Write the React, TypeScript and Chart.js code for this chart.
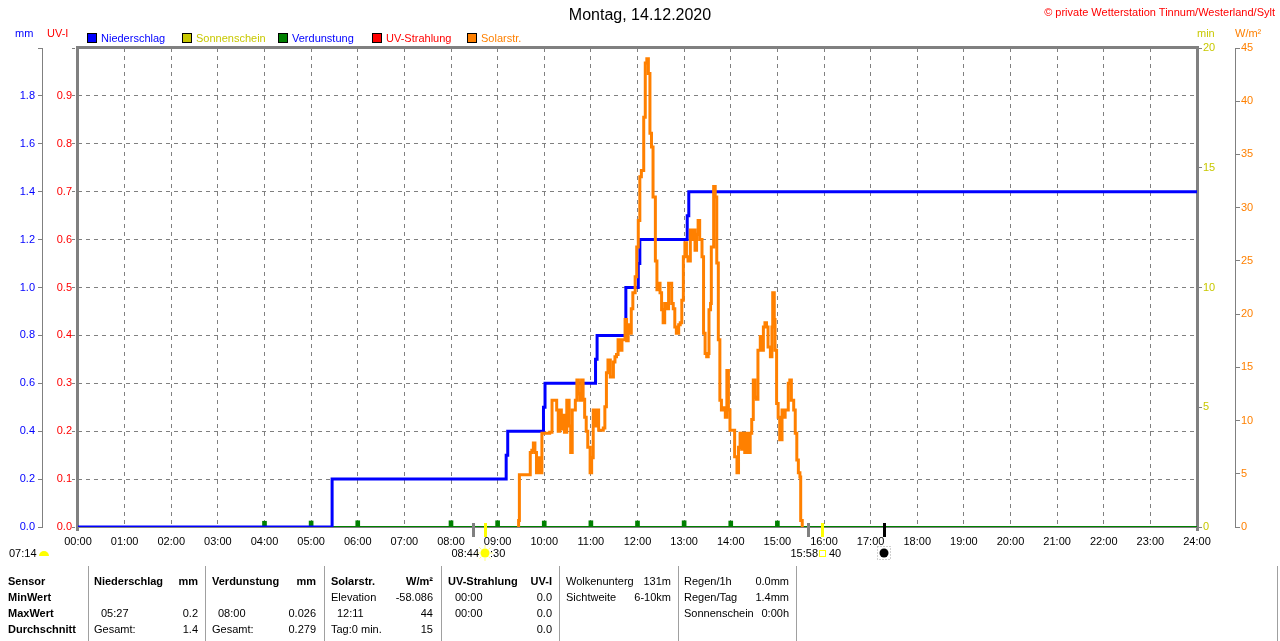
import React, { useEffect, useRef } from "react";
import { Chart, registerables } from "chart.js";

Chart.register(...registerables);

const FONT = "'Liberation Sans', Arial, sans-serif";

// ---------- data ----------
const xTickLabels = [
  "00:00", "01:00", "02:00", "03:00", "04:00", "05:00", "06:00", "07:00", "08:00",
  "09:00", "10:00", "11:00", "12:00", "13:00", "14:00", "15:00", "16:00", "17:00",
  "18:00", "19:00", "20:00", "21:00", "22:00", "23:00", "24:00",
];

const precipTimes = ["00:00", "05:27", "09:11", "09:13", "09:59", "10:01", "11:06", "11:08", "11:45", "12:01", "12:03", "13:04", "13:06", "24:00"];
const precipValues = [0, 0.2, 0.3, 0.4, 0.5, 0.6, 0.7, 0.8, 1.0, 1.1, 1.2, 1.3, 1.4, 1.4];

const evapTimes = ["04:00", "05:00", "06:00", "08:00", "09:00", "10:00", "11:00", "12:00", "13:00", "14:00", "15:00"];
const evapValues = [0.024, 0.025, 0.026, 0.026, 0.026, 0.025, 0.026, 0.025, 0.026, 0.025, 0.025];

const solarTimes = [
  "09:26", "09:27", "09:28", "09:42", "09:44", "09:46", "09:48", "09:50", "09:52", "09:54", "09:57",
  "10:07", "10:10", "10:14", "10:16", "10:18", "10:20", "10:22", "10:23", "10:26", "10:29", "10:32",
  "10:34", "10:36", "10:40", "10:42", "10:44", "10:46", "10:48", "10:50", "10:52", "10:54", "10:56",
  "10:59", "11:01", "11:03", "11:06", "11:08", "11:10", "11:16", "11:18", "11:20", "11:22", "11:25",
  "11:29", "11:31", "11:33", "11:35", "11:38", "11:40", "11:44", "11:46", "11:48", "11:50", "11:52",
  "11:54", "11:57", "11:59", "12:01", "12:03", "12:05", "12:08", "12:10", "12:12", "12:14", "12:16",
  "12:18", "12:20", "12:23", "12:25", "12:27", "12:29", "12:31", "12:33", "12:35", "12:37", "12:40",
  "12:44", "12:46", "12:48", "12:50", "12:53", "12:55", "12:57", "12:59", "13:01", "13:03", "13:05",
  "13:08", "13:10", "13:12", "13:14", "13:16", "13:18", "13:20", "13:23", "13:25", "13:27", "13:29",
  "13:31", "13:32", "13:34", "13:35", "13:38", "13:40", "13:42", "13:44", "13:46", "13:48", "13:51",
  "13:53", "13:55", "13:57", "13:59", "14:05", "14:08", "14:10", "14:12", "14:14", "14:16", "14:18",
  "14:21", "14:23", "14:25", "14:27", "14:29", "14:31", "14:33", "14:35", "14:38", "14:40", "14:42",
  "14:44", "14:46", "14:48", "14:51", "14:53", "14:54", "14:56", "14:57", "14:59", "15:01", "15:03",
  "15:06", "15:08", "15:10", "15:14", "15:16", "15:18", "15:21", "15:23", "15:25", "15:27", "15:29",
  "15:30", "15:32",
];
const solarValues = [
  0, 0.6, 4.9, 7.0, 7.2, 7.9, 7.0, 5.1, 6.5, 5.1, 8.8,
  8.9, 11.9, 11.9, 11.0, 9.0, 11.0, 9.2, 10.5, 8.9, 11.9, 9.5,
  7.0, 11.0, 11.9, 13.8, 12.5, 11.9, 13.8, 12.0, 10.3, 9.0, 7.5,
  5.1, 6.5, 11.0, 9.5, 11.0, 9.1, 9.3, 11.3, 14.5, 15.7, 14.1,
  15.5, 16.0, 16.2, 17.6, 16.6, 17.6, 19.5, 17.5, 19.0, 18.2, 20.5,
  22.0, 23.5, 26.3, 28.8, 32.9, 33.5, 38.5, 43.6, 44.0, 42.6, 37.0,
  35.7, 31.0, 25.0, 22.3, 22.9, 22.0, 20.4, 19.2, 21.0, 20.5, 22.9,
  21.0, 20.5, 18.8, 18.2, 19.0, 19.2, 21.3, 25.4, 26.7, 25.4, 25.0,
  27.9, 27.0, 27.9, 26.0, 27.5, 28.8, 27.0, 25.4, 18.2, 16.3, 16.0,
  16.3, 20.4, 21.0, 26.3, 32.0, 31.0, 24.8, 17.6, 11.9, 11.0, 11.2,
  10.3, 14.7, 11.0, 9.1, 6.6, 5.1, 7.5, 8.8, 7.3, 8.8, 7.0,
  8.8, 7.0, 8.8, 10.1, 13.8, 12.2, 12.0, 16.6, 17.9, 16.6, 18.8,
  19.2, 18.8, 16.9, 16.0, 18.8, 22.0, 19.5, 16.6, 11.6, 10.3, 8.2,
  11.0, 10.3, 11.0, 13.5, 13.8, 11.9, 11.0, 8.8, 6.3, 5.1, 4.7,
  0.6, 0,
];

const eventTimes = ["08:28", "08:44", "15:39", "15:58", "17:17"];
const eventColors = ["#808080", "#ffff00", "#808080", "#ffff00", "#000000"];

const legendItems = [
  { label: "Niederschlag", fill: "#0000ff", text: "#0000ff" },
  { label: "Sonnenschein", fill: "#c8c800", text: "#c8c800" },
  { label: "Verdunstung", fill: "#008000", text: "#0000ff" },
  { label: "UV-Strahlung", fill: "#ff0000", text: "#ff0000" },
  { label: "Solarstr.", fill: "#ff8000", text: "#ff8000" },
];
const legendX = [87, 182, 278, 372, 467];

// table texts: [text, x, row, align, bold]
const tableCells: [string, number, number, string, boolean][] = [
  ["Sensor", 8, 0, "l", true], ["MinWert", 8, 1, "l", true], ["MaxWert", 8, 2, "l", true], ["Durchschnitt", 8, 3, "l", true],
  ["Niederschlag", 94, 0, "l", true], ["mm", 198, 0, "r", true],
  ["05:27", 101, 2, "l", false], ["0.2", 198, 2, "r", false],
  ["Gesamt:", 94, 3, "l", false], ["1.4", 198, 3, "r", false],
  ["Verdunstung", 212, 0, "l", true], ["mm", 316, 0, "r", true],
  ["08:00", 218, 2, "l", false], ["0.026", 316, 2, "r", false],
  ["Gesamt:", 212, 3, "l", false], ["0.279", 316, 3, "r", false],
  ["Solarstr.", 331, 0, "l", true], ["W/m²", 433, 0, "r", true],
  ["Elevation", 331, 1, "l", false], ["-58.086", 433, 1, "r", false],
  ["12:11", 337, 2, "l", false], ["44", 433, 2, "r", false],
  ["Tag:0 min.", 331, 3, "l", false], ["15", 433, 3, "r", false],
  ["UV-Strahlung", 448, 0, "l", true], ["UV-I", 552, 0, "r", true],
  ["00:00", 455, 1, "l", false], ["0.0", 552, 1, "r", false],
  ["00:00", 455, 2, "l", false], ["0.0", 552, 2, "r", false],
  ["0.0", 552, 3, "r", false],
  ["Wolkenunterg", 566, 0, "l", false], ["131m", 671, 0, "r", false],
  ["Sichtweite", 566, 1, "l", false], ["6-10km", 671, 1, "r", false],
  ["Regen/1h", 684, 0, "l", false], ["0.0mm", 789, 0, "r", false],
  ["Regen/Tag", 684, 1, "l", false], ["1.4mm", 789, 1, "r", false],
  ["Sonnenschein", 684, 2, "l", false], ["0:00h", 789, 2, "r", false],
];
const tableRowY = [581, 597, 613, 629];
const tableSeparators = [88, 205, 324, 441, 559, 678, 796, 1277];

const toMin = (t: string) => {
  const [h, m] = t.split(":").map(Number);
  return h * 60 + m;
};

const markerPlugin = {
  id: "markers",
  beforeDatasetsDraw(chart: any) {
    const { ctx, chartArea: a } = chart;
    ctx.save();
    ctx.strokeStyle = "#808080";
    ctx.lineWidth = 3;
    ctx.beginPath();
    ctx.moveTo(a.left - 2, a.top - 0.5);
    ctx.lineTo(a.right + 2, a.top - 0.5);
    ctx.moveTo(a.left - 0.5, a.top);
    ctx.lineTo(a.left - 0.5, a.bottom + 4);
    ctx.moveTo(a.right + 0.5, a.top);
    ctx.lineTo(a.right + 0.5, a.bottom + 4);
    ctx.stroke();
    ctx.restore();
  },
  afterDraw(chart: any) {
    const { ctx, chartArea: a } = chart;
    const xs = chart.scales.x;
    ctx.save();
    eventTimes.forEach((t, i) => {
      const px = Math.round(xs.getPixelForValue(toMin(t)));
      ctx.fillStyle = eventColors[i];
      ctx.fillRect(px - 1, a.bottom - 4, 3, 14);
    });
    const cy = a.bottom + 26;
    // sun (sunrise)
    const sx = Math.round(xs.getPixelForValue(toMin(eventTimes[1])));
    ctx.strokeStyle = "#ffff80";
    ctx.lineWidth = 1;
    for (let k = 0; k < 8; k++) {
      const ang = (k * Math.PI) / 4;
      ctx.beginPath();
      ctx.moveTo(sx + Math.cos(ang) * 5, cy + Math.sin(ang) * 5);
      ctx.lineTo(sx + Math.cos(ang) * 8, cy + Math.sin(ang) * 8);
      ctx.stroke();
    }
    ctx.fillStyle = "#ffff00";
    ctx.beginPath();
    ctx.arc(sx, cy, 4.5, 0, Math.PI * 2);
    ctx.fill();
    // sunset square
    const ux = Math.round(xs.getPixelForValue(toMin(eventTimes[3])));
    ctx.strokeStyle = "#ffff00";
    ctx.lineWidth = 1;
    ctx.strokeRect(ux - 2.5, cy - 2.5, 6, 6);
    // moon
    const mx = Math.round(xs.getPixelForValue(toMin(eventTimes[4])));
    ctx.fillStyle = "#000000";
    ctx.beginPath();
    ctx.arc(mx, cy, 4.5, 0, Math.PI * 2);
    ctx.fill();
    ctx.strokeStyle = "#a0a0a0";
    ctx.setLineDash([1, 2]);
    ctx.strokeRect(mx - 6.5, cy - 6.5, 13, 13);
    ctx.setLineDash([]);
    // half disc near day length
    ctx.fillStyle = "#ffff00";
    ctx.beginPath();
    ctx.arc(44, cy + 3, 5, Math.PI, 0);
    ctx.closePath();
    ctx.fill();
    ctx.restore();
  },
};

const tickFont = { family: FONT, size: 11 };

function Txt(props: { x: number; y: number; text: string; color?: string; bold?: boolean; align?: string; size?: number }) {
  const { x, y, text, color = "#000", bold = false, align = "l", size = 11 } = props;
  const style: any = {
    position: "absolute",
    top: y - 7,
    lineHeight: "14px",
    fontSize: size,
    fontWeight: bold ? "bold" : "normal",
    color,
    whiteSpace: "nowrap",
  };
  if (align === "r") style.right = 1280 - x;
  else style.left = x;
  return <div style={style}>{text}</div>;
}

export default function App() {
  const ref = useRef<HTMLCanvasElement | null>(null);

  useEffect(() => {
    if (!ref.current) return;
    const chart = new Chart(ref.current, {
      type: "line",
      data: {
        datasets: [
          {
            type: "line",
            label: "Solarstr.",
            yAxisID: "yW",
            data: solarTimes.map((t, i) => ({ x: toMin(t), y: solarValues[i] })),
            borderColor: "#ff8000",
            borderWidth: 3,
            stepped: "before",
            pointRadius: 0,
            order: 0,
          },
          {
            type: "line",
            label: "Niederschlag",
            yAxisID: "y",
            data: precipTimes.map((t, i) => ({ x: toMin(t), y: precipValues[i] })),
            borderColor: "#0000ff",
            borderWidth: 3,
            stepped: "before",
            pointRadius: 0,
            order: 1,
          },
          {
            type: "line",
            label: "Verdunstung",
            yAxisID: "y",
            data: [
              { x: 0, y: 0 },
              { x: 1440, y: 0 },
            ],
            borderColor: "#008000",
            borderWidth: 2,
            pointRadius: 0,
            order: 2,
          },
          {
            type: "bar",
            label: "Verdunstung",
            yAxisID: "y",
            data: evapTimes.map((t, i) => ({ x: toMin(t), y: evapValues[i] })),
            backgroundColor: "#008000",
            barThickness: 4,
            order: 2,
          } as any,
        ],
      },
      options: {
        animation: false,
        responsive: false,
        devicePixelRatio: 1,
        events: [],
        layout: { padding: { top: 48, bottom: 94, left: 0, right: 0 } },
        plugins: { legend: { display: false }, tooltip: { enabled: false }, title: { display: false } },
        scales: {
          x: {
            type: "linear",
            position: "bottom",
            min: 0,
            max: 1440,
            offset: false,
            afterFit: (s: any) => {
              s.height = 20;
            },
            ticks: {
              stepSize: 60,
              autoSkip: false,
              maxRotation: 0,
              padding: 8,
              color: "#000",
              font: tickFont,
              callback: (v: any) => xTickLabels[Math.round(Number(v) / 60)] ?? "",
            },
            grid: { color: "#808080", drawTicks: false, lineWidth: 1, offset: false },
            border: { display: true, color: "#808080", width: 2, dash: [4, 4] },
          },
          y: {
            type: "linear",
            position: "left",
            weight: 2,
            min: 0,
            max: 2.0,
            afterFit: (s: any) => {
              s.width = 42;
            },
            ticks: {
              stepSize: 0.2,
              padding: 3,
              color: "#0000ff",
              font: tickFont,
              callback: (v: any) => (Number(v) > 1.99 ? "" : Number(v).toFixed(1)),
            },
            grid: { drawOnChartArea: false, color: "#808080", tickLength: 4 },
            border: { display: true, color: "#808080", width: 1 },
          },
          yUV: {
            type: "linear",
            position: "left",
            weight: 1,
            min: 0,
            max: 1.0,
            afterFit: (s: any) => {
              s.width = 36;
            },
            ticks: {
              stepSize: 0.1,
              padding: 0,
              color: "#ff0000",
              font: tickFont,
              callback: (v: any) => (Number(v) > 0.99 ? "" : Number(v).toFixed(1)),
            },
            grid: {
              drawOnChartArea: true,
              color: "#808080",
              tickLength: 6,
              tickColor: "#808080",
              tickBorderDash: [3, 3],
            },
            border: { display: false, dash: [4, 4] },
          },
          yMin: {
            type: "linear",
            position: "right",
            weight: 1,
            min: 0,
            max: 20,
            afterFit: (s: any) => {
              s.width = 38;
            },
            ticks: { stepSize: 5, padding: 1, color: "#c8c800", font: tickFont },
            grid: { drawOnChartArea: false, color: "#808080", tickLength: 5 },
            border: { display: true, color: "#808080", width: 3 },
          },
          yW: {
            type: "linear",
            position: "right",
            weight: 2,
            min: 0,
            max: 45,
            afterFit: (s: any) => {
              s.width = 45;
            },
            ticks: { stepSize: 5, padding: 1, color: "#ff8000", font: tickFont },
            grid: { drawOnChartArea: false, color: "#808080", tickLength: 5 },
            border: { display: true, color: "#808080", width: 1 },
          },
        },
      } as any,
      plugins: [markerPlugin],
    });
    return () => chart.destroy();
  }, []);

  return (
    <div
      style={{
        position: "absolute",
        left: 0,
        top: 0,
        width: 1280,
        height: 641,
        overflow: "hidden",
        background: "#fff",
        fontFamily: FONT,
      }}
    >
      <canvas ref={ref} width={1280} height={641} style={{ position: "absolute", left: 0, top: 0, width: 1280, height: 641 }} />
      <div style={{ position: "absolute", left: 0, width: 1280, top: 5, textAlign: "center", fontSize: 16, lineHeight: "20px", color: "#000" }}>
        Montag, 14.12.2020
      </div>
      <Txt x={1275} y={12} text="© private Wetterstation Tinnum/Westerland/Sylt" color="#ff0000" align="r" />
      <Txt x={15} y={33} text="mm" color="#0000ff" />
      <Txt x={47} y={33} text="UV-I" color="#ff0000" />
      <Txt x={1197} y={33} text="min" color="#c8c800" />
      <Txt x={1235} y={33} text="W/m²" color="#ff8000" />
      {legendItems.map((it, i) => (
        <React.Fragment key={it.label}>
          <div
            style={{
              position: "absolute",
              left: legendX[i],
              top: 33,
              width: 8,
              height: 8,
              background: it.fill,
              border: "1px solid #000",
            }}
          />
          <Txt x={legendX[i] + 14} y={38} text={it.label} color={it.text} />
        </React.Fragment>
      ))}
      <Txt x={9} y={553} text="07:14" />
      <Txt x={479} y={553} text="08:44" align="r" />
      <Txt x={490} y={553} text=":30" />
      <Txt x={818} y={553} text="15:58" align="r" />
      <Txt x={829} y={553} text="40" />
      {tableSeparators.map((x) => (
        <div key={x} style={{ position: "absolute", left: x, top: 566, width: 1, height: 75, background: "#a0a0a0" }} />
      ))}
      {tableCells.map((c, i) => (
        <Txt key={i} x={c[1]} y={tableRowY[c[2]]} text={c[0]} align={c[3]} bold={c[4]} />
      ))}
    </div>
  );
}
